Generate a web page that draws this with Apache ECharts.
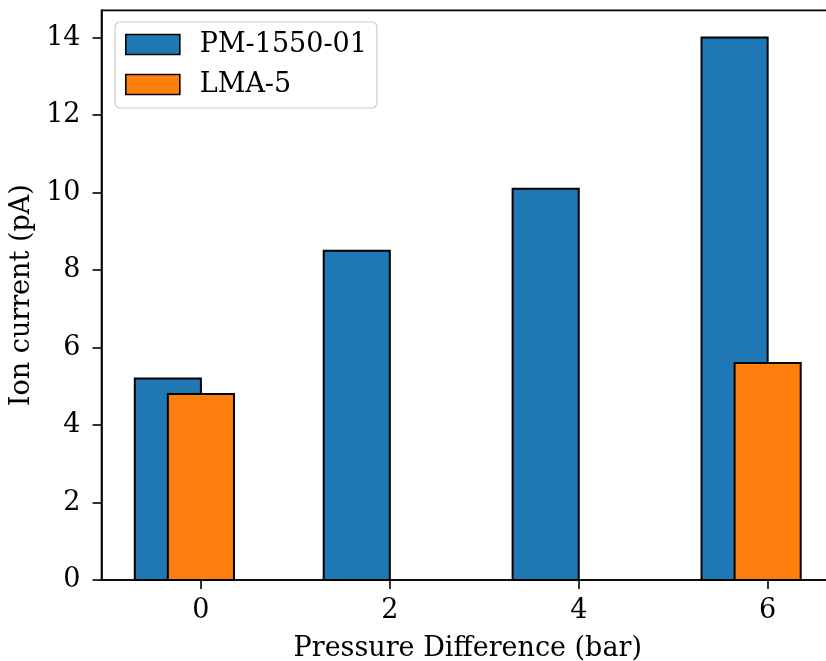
<!DOCTYPE html>
<html>
<head>
<meta charset="utf-8">
<script src="https://cdn.jsdelivr.net/npm/echarts@6/dist/echarts.min.js"></script>
<style>
  html, body { margin: 0; padding: 0; background: #fff; }
  #chart { width: 826px; height: 661px; }
</style>
</head>
<body>
<div id="chart"></div>
<script>
// Pressure difference (bar) at which each sensor was measured
const pressures = [0, 2, 4, 6];
// Ion current readings (pA)
const pm1550 = [5.2, 8.5, 10.1, 14.0];
const lma5 = [4.8, null, null, 5.6];
// Axis tick values
const xTicks = [0, 2, 4, 6];
const yTicks = [0, 2, 4, 6, 8, 10, 12, 14];

const FONT = 'DejaVu Serif';
const FS = 27;
const BLUE = '#1f77b4';
const ORANGE = '#ff7f0e';

// Bar spans relative to the pressure value (in axis units)
function barSeries(name, values, color, lo, hi) {
  const data = [];
  pressures.forEach((p, i) => {
    if (values[i] != null) data.push([p, values[i]]);
  });
  return {
    name: name,
    type: 'custom',
    data: data,
    itemStyle: { color: color, borderColor: '#000', borderWidth: 1.8 },
    encode: { x: 0, y: 1 },
    renderItem: function (params, api) {
      const x = api.value(0);
      const v = api.value(1);
      const pTop = api.coord([x + lo, v]);
      const pBase = api.coord([x + hi, 0]);
      return {
        type: 'rect',
        shape: {
          x: pTop[0],
          y: pTop[1],
          width: pBase[0] - pTop[0],
          height: pBase[1] - pTop[1]
        },
        style: { fill: color, stroke: '#000', lineWidth: 2 }
      };
    }
  };
}

const chart = echarts.init(document.getElementById('chart'), null, { renderer: 'canvas' });

chart.setOption({
  animation: false,
  backgroundColor: '#fff',
  grid: {
    left: 101.5,
    top: 10.4,
    right: -8,
    bottom: 81,
    containLabel: false,
    outerBoundsMode: 'none',
    show: true,
    borderColor: '#000',
    borderWidth: 1.6,
    backgroundColor: 'transparent'
  },
  legend: {
    left: 115,
    top: 22,
    orient: 'vertical',
    icon: 'rect',
    itemWidth: 54,
    itemHeight: 20,
    itemGap: 13,
    padding: [9, 10, 10, 10],
    borderColor: '#cccccc',
    borderWidth: 1.2,
    borderRadius: 5,
    backgroundColor: 'rgba(255,255,255,0.8)',
    textStyle: { fontFamily: FONT, fontSize: FS, color: '#000', padding: [0, 0, 0, 15] },
    data: [
      { name: 'PM-1550-01', itemStyle: { color: BLUE, borderColor: '#000', borderWidth: 1.6 } },
      { name: 'LMA-5', itemStyle: { color: ORANGE, borderColor: '#000', borderWidth: 1.6 } }
    ]
  },
  xAxis: {
    type: 'value',
    min: -1.0525,
    max: 6.7025,
    name: 'Pressure Difference (bar)',
    nameLocation: 'middle',
    nameGap: 55,
    nameTextStyle: { fontFamily: FONT, fontSize: FS, color: '#000' },
    splitLine: { show: false },
    axisLine: { show: true, onZero: false, lineStyle: { color: '#000', width: 1.6 } },
    axisTick: { show: true, length: 9, lineStyle: { color: '#000', width: 1.6 }, customValues: xTicks },
    axisLabel: {
      fontFamily: FONT, fontSize: FS, color: '#000', margin: 17,
      customValues: xTicks
    }
  },
  yAxis: {
    type: 'value',
    min: 0,
    max: 14.7,
    name: 'Ion current (pA)',
    nameLocation: 'middle',
    nameGap: 63,
    nameRotate: 90,
    nameTextStyle: { fontFamily: FONT, fontSize: FS, color: '#000' },
    splitLine: { show: false },
    axisLine: { show: true, onZero: false, lineStyle: { color: '#000', width: 1.6 } },
    axisTick: { show: true, length: 9, lineStyle: { color: '#000', width: 1.6 }, customValues: yTicks },
    axisLabel: {
      fontFamily: FONT, fontSize: FS, color: '#000', margin: 21,
      customValues: yTicks
    }
  },
  series: [
    barSeries('PM-1550-01', pm1550, BLUE, -0.7, 0),
    barSeries('LMA-5', lma5, ORANGE, -0.35, 0.35)
  ]
});
</script>
</body>
</html>
